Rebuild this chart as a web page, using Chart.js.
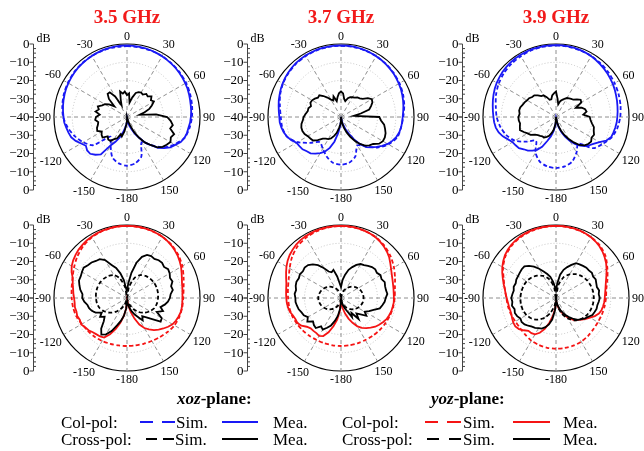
<!DOCTYPE html>
<html>
<head>
<meta charset="utf-8">
<title>Radiation patterns</title>
<script src="https://cdn.jsdelivr.net/npm/chart.js@4.4.1/dist/chart.umd.min.js"></script>
<style>
  html, body { margin: 0; padding: 0; background: #fff; }
  #page { position: relative; width: 644px; height: 451px; overflow: hidden;
          font-family: "Liberation Serif", "Times New Roman", serif; color: #000; }
  canvas { position: absolute; }
  .lg { position: absolute; font-size: 17px; line-height: 17px; white-space: nowrap; }
  .hd { position: absolute; font-size: 17px; line-height: 17px; font-weight: bold; white-space: nowrap; }
  .ln { position: absolute; height: 2px; }
</style>
</head>
<body>
<div id="page">
  <canvas id="c1" width="215" height="212" style="left:0px;top:0px"></canvas>
  <canvas id="c2" width="215" height="212" style="left:214px;top:0px"></canvas>
  <canvas id="c3" width="215" height="212" style="left:429px;top:0px"></canvas>
  <canvas id="c4" width="215" height="195" style="left:0px;top:200px"></canvas>
  <canvas id="c5" width="215" height="195" style="left:214px;top:200px"></canvas>
  <canvas id="c6" width="215" height="195" style="left:429px;top:200px"></canvas>

  <!-- legend: xoz-plane -->
  <div class="hd" style="left:177px;top:390px"><i>xoz</i>-plane:</div>
  <div class="lg" style="left:61px;top:414px">Col-pol:</div>
  <div class="ln" style="left:140px;top:421px;width:13px;background:#1919f5"></div>
  <div class="ln" style="left:162px;top:421px;width:13px;background:#1919f5"></div>
  <div class="lg" style="left:176px;top:414px">Sim.</div>
  <div class="ln" style="left:222px;top:421px;width:36px;background:#1919f5"></div>
  <div class="lg" style="left:273px;top:414px">Mea.</div>
  <div class="lg" style="left:61px;top:431px">Cross-pol:</div>
  <div class="ln" style="left:146px;top:438px;width:11px;background:#000"></div>
  <div class="ln" style="left:163px;top:438px;width:11px;background:#000"></div>
  <div class="lg" style="left:175px;top:431px">Sim.</div>
  <div class="ln" style="left:222px;top:438px;width:36px;background:#000"></div>
  <div class="lg" style="left:273px;top:431px">Mea.</div>

  <!-- legend: yoz-plane -->
  <div class="hd" style="left:431px;top:390px"><i>yoz</i>-plane:</div>
  <div class="lg" style="left:342px;top:414px">Col-pol:</div>
  <div class="ln" style="left:425px;top:421px;width:13px;background:#f51414"></div>
  <div class="ln" style="left:447px;top:421px;width:14px;background:#f51414"></div>
  <div class="lg" style="left:463px;top:414px">Sim.</div>
  <div class="ln" style="left:513px;top:421px;width:37px;background:#f51414"></div>
  <div class="lg" style="left:563px;top:414px">Mea.</div>
  <div class="lg" style="left:342px;top:431px">Cross-pol:</div>
  <div class="ln" style="left:427px;top:438px;width:12px;background:#000"></div>
  <div class="ln" style="left:449px;top:438px;width:12px;background:#000"></div>
  <div class="lg" style="left:463px;top:431px">Sim.</div>
  <div class="ln" style="left:513px;top:438px;width:37px;background:#000"></div>
  <div class="lg" style="left:563px;top:431px">Mea.</div>
</div>

<script>
// Angular categories: one spoke every 5 degrees, clockwise from broadside (0 at top)
const ANGLE_STEP = 5;
const ANGLES = Array.from({ length: 360 / ANGLE_STEP }, (_, i) => i * ANGLE_STEP);
const ANGLE_TICKS = ['0', '30', '60', '90', '120', '150', '-180', '-150', '-120', '-90', '-60', '-30'];
const DB_TICKS = ['0', '\u221210', '\u221220', '\u221230', '\u221240', '\u221230', '\u221220', '\u221210', '0'];
const DB_LEVELS = [0, -10, -20, -30, -40, -30, -20, -10, 0];
const FREQS = ['3.5 GHz', '3.7 GHz', '3.9 GHz'];

// Normalised gain in dB. Simulated cuts are sampled every 10 deg, measured cuts every 5 deg.
// ---- xoz-plane, 3.5 GHz ----
const XOZ35_COL_SIM = [-1.2,-1.2,-1.3,-1.5,-1.8,-2.2,-2.6,-3.2,-3.8,-4.4,-5.2,-6.5,
  -10,-14,-20,-24,-17,-14.2,-13.3,-14.2,-16.5,-22,-26,-16,
  -12.3,-9.5,-7,-5,-4,-3.2,-2.6,-2,-1.6,-1.4,-1.2,-1.2];
const XOZ35_COL_MEA = [-0.8,-0.9,-1.0,-1.0,-1.2,-1.4,-1.6,-1.8,-2.0,-2.2,-2.5,-2.8,
  -3.1,-3.4,-3.8,-4.2,-4.5,-4.7,-5.0,-5.3,-5.8,-6.0,-6.5,-7.5,
  -9.5,-11,-13.5,-16,-20,-23,-27,-30,-33,-35,-37,-39,
  -37.5,-36,-34,-31,-28,-25,-22,-15,-13,-11.5,-11.5,-12.5,
  -11,-9,-7.5,-6.8,-6.2,-5.5,-5.2,-4.8,-4.4,-4.0,-3.6,-3.2,
  -2.9,-2.6,-2.3,-2.0,-1.8,-1.6,-1.4,-1.2,-1.0,-0.9,-0.8,-0.8];
const XOZ35_CROSS_MEA = [-28,-27,-32,-29,-26,-25,-24.5,-25,-23.5,-24,-22.5,-24,
  -23,-25,-27,-30,-33,-24,-18,-16,-14.5,-15.5,-12.5,-13.5,
  -12.5,-13.5,-14.5,-16.5,-20,-23,-27,-31,-35,-38,-40,-40,
  -38,-36,-32,-29,-30,-27,-26,-24,-24,-25,-22.5,-23,
  -24,-22,-22.5,-23.5,-24,-22.5,-23,-25,-22.5,-24,-23,-25,
  -26,-28,-31,-26,-23.5,-23.5,-27,-33,-30,-25.5,-27,-26];

// ---- xoz-plane, 3.7 GHz ----
const XOZ37_COL_SIM = [-1.0,-1.0,-1.2,-1.5,-1.9,-2.4,-3.0,-3.8,-4.8,-5.9,-6.6,-7.2,
  -10,-14,-19,-22,-17,-14.5,-13.9,-14.5,-17,-20,-22,-18,
  -12.5,-8.5,-7.3,-7,-6,-4.5,-3.3,-2.5,-1.8,-1.4,-1.1,-1.0];
const XOZ37_COL_MEA = [-0.8,-0.8,-0.9,-1.0,-1.1,-1.3,-1.5,-1.7,-2.0,-2.3,-2.6,-3.0,
  -3.4,-3.8,-4.3,-4.8,-5.3,-5.8,-6.2,-6.4,-6.6,-7.0,-7.8,-9.0,
  -10.5,-12.5,-14.5,-16.5,-18.5,-22,-26,-30,-33,-36,-38,-40,
  -38,-35,-31,-26,-22,-19,-17.2,-15.5,-14,-13.5,-12.5,-12.2,
  -11.8,-10,-8.5,-7.5,-6.8,-6.3,-6.2,-5.8,-5.3,-4.7,-4.2,-3.6,
  -3.1,-2.6,-2.2,-1.8,-1.5,-1.3,-1.1,-1.0,-0.9,-0.8,-0.8,-0.8];
const XOZ37_CROSS_MEA = [-26,-27,-30,-31,-29,-28,-27.5,-27,-26,-25.5,-24.5,-22,
  -20.5,-21,-22.5,-24,-29,-33,-19,-18,-16,-15,-14,-13.5,
  -13.5,-14.5,-17,-18,-19.5,-22,-25,-28,-31,-34,-37,-40,
  -38,-36,-34,-31,-29,-27,-26,-25.5,-24.5,-22,-20,-19.5,
  -19,-18,-17.5,-17.5,-18,-19,-19.5,-20.5,-21.5,-21.5,-22.5,-21.5,
  -21.7,-22.5,-23.5,-23.2,-25,-27,-29,-30,-28,-31,-29,-27];

// ---- xoz-plane, 3.9 GHz ----
const XOZ39_COL_SIM = [-0.8,-0.9,-1.1,-1.4,-1.8,-2.3,-2.9,-3.5,-4.1,-4.8,-5.8,-7.5,
  -10.5,-13.4,-21,-17.5,-14,-12.5,-12,-12.5,-14,-17.5,-23,-19,
  -14,-11,-9,-7.5,-6.5,-5,-3.7,-2.7,-2,-1.5,-1.1,-0.9];
const XOZ39_COL_MEA = [-0.6,-0.6,-0.7,-0.8,-1.0,-1.2,-1.5,-1.9,-2.3,-2.7,-3.1,-3.6,
  -4.0,-4.5,-5.0,-5.4,-5.8,-6.1,-6.4,-6.6,-7.0,-7.4,-7.8,-9.5,
  -12.5,-14.5,-16,-17.5,-19.5,-22,-25,-28,-31,-34,-37,-39,
  -38,-35,-32,-29,-26,-22,-19.2,-17.5,-16,-15,-13.5,-13,
  -12.5,-11,-9,-7.5,-6.5,-6,-5.7,-5.3,-4.8,-4.2,-3.6,-3.0,
  -2.5,-2.1,-1.7,-1.4,-1.1,-0.9,-0.8,-0.7,-0.6,-0.6,-0.6,-0.6];
const XOZ39_CROSS_MEA = [-26,-30,-33,-31,-30,-29,-28,-27.5,-27,-26.6,-25,-23.5,
  -24,-28,-25,-23.5,-23,-25,-21.5,-21,-20,-18.5,-18,-17,
  -17.5,-16.5,-17,-18,-20,-23,-26,-29,-32,-35,-38,-40,
  -39,-36,-33,-31,-29,-28,-27,-27,-26.5,-26,-25,-23,
  -22,-20.5,-19,-19.5,-20,-19.5,-19.4,-20,-19.5,-19.7,-20.5,-21,
  -21.7,-22,-23,-23.2,-24.5,-26,-26.3,-28,-30,-30,-28,-27];

// ---- yoz-plane, 3.5 GHz ----
const YOZ35_COL_SIM = [-0.5,-0.6,-0.8,-1.2,-2,-3.3,-5,-7,-8.5,-9.2,-9.3,-9.5,
  -10,-11,-12,-12.8,-13.3,-13.6,-13.7,-13.6,-13.3,-12.8,-12.3,-12,
  -11.5,-10.5,-10,-9.7,-9.2,-8.2,-6.5,-4.5,-2.8,-1.6,-0.9,-0.6];
const YOZ35_COL_MEA = [-0.5,-0.5,-0.5,-0.6,-0.8,-1.0,-1.3,-1.7,-2.3,-3.0,-3.8,-4.8,
  -5.8,-7.0,-8.0,-8.8,-9.2,-9.5,-9.6,-9.6,-9.5,-9.6,-10.0,-10.5,
  -11.2,-12.5,-14,-15.5,-17,-19,-21,-24,-28,-32,-36,-39,
  -38,-34,-30,-26,-22,-18,-15,-14.3,-14,-13.5,-12.5,-12,
  -11,-11.5,-11,-11.3,-11,-11.2,-11,-10.5,-10,-9.2,-8.4,-6.5,
  -5,-4,-3.2,-2.5,-2,-1.5,-1.2,-0.9,-0.7,-0.6,-0.5,-0.5];
const YOZ35_CROSS_SIM = [-40,-34,-28.5,-25.5,-24.2,-23.5,-23,-22.8,-22.8,-23,-23.3,-24,
  -25.5,-27.5,-30,-33,-36,-39,-40,-39,-36,-33,-30,-27.5,
  -25.5,-24,-23.3,-23,-22.8,-22.8,-23,-23.5,-24.2,-25.5,-28.5,-34];
const YOZ35_CROSS_MEA = [-36,-32,-26,-20,-16,-14,-13.5,-13.8,-13,-12.8,-13.5,-12.5,
  -13,-14,-13.5,-15,-14.5,-16,-16.5,-17.5,-19,-21,-19,-22,
  -18,-17.5,-22,-25,-27,-25,-28,-30,-32,-34,-36,-38,
  -38,-34,-30,-27,-24,-20,-17,-15.5,-18,-22,-24,-22,
  -24,-21,-19.5,-18.5,-18,-16.5,-15.5,-15.5,-14,-13,-12,-12,
  -11.5,-11,-12,-12.5,-13.5,-14,-16,-20,-22.5,-26,-30,-35];

// ---- yoz-plane, 3.7 GHz ----
const YOZ37_COL_SIM = [-0.6,-0.7,-1.0,-1.6,-2.8,-4.5,-6.5,-8.5,-10,-10.6,-11,-11.5,
  -12,-12.5,-13,-13.4,-13.6,-13.7,-13.7,-13.7,-13.6,-13.4,-13,-12.5,
  -12,-11.5,-11.2,-11,-10.5,-9.5,-7.5,-5,-3,-1.8,-1.1,-0.7];
const YOZ37_COL_MEA = [-0.5,-0.5,-0.6,-0.8,-1.0,-1.3,-1.8,-2.5,-3.3,-4.3,-5.5,-7.0,
  -8.3,-9.3,-10.0,-10.5,-10.8,-11.0,-11.0,-11.0,-11.3,-11.5,-12.0,-12.5,
  -13.5,-14.5,-15.5,-17.0,-18.5,-20,-22,-25,-28,-31,-34,-37,
  -38,-33,-28,-24,-20,-17,-16,-16.5,-16.5,-16.5,-15.5,-13.5,
  -12.5,-12.5,-12,-11,-10.5,-10.2,-10,-9.8,-9.5,-9,-8,-6.8,
  -5.5,-4.3,-3.3,-2.5,-1.8,-1.3,-1.0,-0.8,-0.6,-0.5,-0.5,-0.5];
const YOZ37_CROSS_SIM = [-40,-37.8,-35.7,-33.8,-32,-30.5,-29.3,-28.4,-27.8,-27.6,-27.8,-28.4,
  -29.3,-30.5,-32,-33.8,-35.7,-37.8,-40,-37.8,-35.7,-33.8,-32,-30.5,
  -29.3,-28.4,-27.8,-27.5,-27.8,-28.4,-29.3,-30.5,-32,-33.8,-35.7,-37.8];
const YOZ37_CROSS_MEA = [-34,-30,-27,-24,-22,-20,-18.5,-18,-17,-16,-15.5,-16,
  -15,-15.5,-14.5,-15,-15,-14.5,-15.5,-16,-17,-18,-21,-23,
  -25,-23,-26,-28,-25,-30,-28,-32,-34,-36,-38,-39,
  -38,-34,-30,-27,-24,-22,-20,-21,-18.5,-19,-20,-17.5,
  -19,-17.5,-17,-16,-15.5,-15,-15,-14.5,-15,-14.3,-14,-14.5,
  -14,-14.5,-14,-14.5,-16,-18,-21,-24,-25,-24,-28,-32];

// ---- yoz-plane, 3.9 GHz ----
const YOZ39_COL_SIM = [-0.5,-0.6,-0.9,-1.5,-2.5,-4.5,-7.5,-10,-12,-12.6,-13,-13.3,
  -13.5,-13.3,-12.8,-12.4,-12.2,-12.2,-12.2,-12.3,-12.6,-13,-13.8,-14.3,
  -14.3,-13.8,-13.3,-12.8,-11.5,-9.5,-6.5,-4,-2.4,-1.4,-0.9,-0.6];
const YOZ39_COL_MEA = [-0.5,-0.5,-0.6,-0.7,-0.9,-1.2,-1.6,-2.2,-3.0,-4.0,-5.2,-6.5,
  -8,-9.5,-10.8,-11.8,-12.5,-13,-13.3,-13.5,-13.8,-14.2,-15,-16.5,
  -18.5,-20,-21.5,-23,-24,-26,-28,-30,-32,-34,-36,-38,
  -38,-34,-30,-26,-22,-19,-17,-16.5,-16.5,-15,-13.5,-12.8,
  -13,-13.5,-14,-14,-13.8,-13.5,-13,-12.3,-11.5,-10.3,-9,-7.5,
  -6,-4.7,-3.5,-2.6,-1.9,-1.4,-1.0,-0.8,-0.6,-0.5,-0.5,-0.5];
const YOZ39_CROSS_SIM = [-40,-33,-28,-25,-23,-21.5,-20.5,-19.8,-19.4,-19.3,-19.5,-20,
  -20.8,-22,-24,-27,-31,-36,-40,-36,-31.5,-27.5,-24.5,-22.5,
  -21.3,-20.7,-20.5,-20.5,-20.7,-21,-21.5,-22.5,-24,-26,-29,-34];
const YOZ39_CROSS_MEA = [-36,-32,-27,-24,-22,-20,-18,-17.5,-17,-16.5,-16.5,-16,
  -16.5,-16,-16.5,-16.8,-16,-16.5,-16,-16.5,-17,-17,-17.5,-18,
  -19.5,-20.5,-22,-23,-25,-27,-29,-31,-33,-35,-37,-39,
  -38,-33,-28,-25,-23,-21.5,-21,-20,-19.5,-18.5,-17.5,-17,
  -17.5,-16.5,-16,-16.5,-15.5,-16,-15.5,-16,-16.5,-16,-16.5,-16,
  -16,-15.8,-15.5,-15.5,-17,-19,-21.5,-24,-26,-28,-31,-34];

const BLUE = '#1919f5';
const RED = '#f51414';
const BLACK = '#000000';

// 10-degree samples sit on every other 5-degree spoke; the line spans the gaps
const on10deg = arr => arr.flatMap(v => [v, null]);

function series(values, color, dashed) {
  return {
    data: dashed ? on10deg(values) : values,
    borderColor: color,
    backgroundColor: 'transparent',
    borderWidth: 1.8,
    borderDash: dashed ? [4, 2.5] : [],
    fill: false,
    pointRadius: 0,
    pointHoverRadius: 0,
    tension: dashed ? 0.25 : 0,
    spanGaps: true
  };
}

// Angle labels around the rim and the dB ruler at the left of each polar plot
const polarFrame = {
  id: 'polarFrame',
  afterDraw(chart) {
    const s = chart.scales.r;
    const ctx = chart.ctx;
    const cx = s.xCenter, cy = s.yCenter, R = s.drawingArea;
    ctx.save();
    ctx.fillStyle = '#000';
    ctx.font = '12px "Liberation Serif", serif';
    ctx.textAlign = 'center';
    ctx.textBaseline = 'middle';
    ANGLE_TICKS.forEach((txt, k) => {
      const idx = k * 30 / ANGLE_STEP;
      const th = k * Math.PI / 6;
      const w = ctx.measureText(txt).width;
      const d = R + 3 + Math.abs(Math.sin(th)) * w / 2 + Math.abs(Math.cos(th)) * 5;
      const p = s.getPointPosition(idx, d);
      ctx.fillText(txt, p.x, p.y + 0.5);
    });

    const ax = Math.round(cx - 94) + 0.5;
    ctx.strokeStyle = '#444';
    ctx.lineWidth = 1;
    ctx.beginPath();
    ctx.moveTo(ax, cy - R);
    ctx.lineTo(ax, cy + R);
    ctx.stroke();
    ctx.beginPath();
    for (let v = -40; v <= 0; v += 2.5) {
      const d = s.getDistanceFromCenterForValue(v);
      const major = v % 10 === 0;
      [cy - d, cy + d].forEach(y => {
        if (major) { ctx.moveTo(ax - 4, y); ctx.lineTo(ax, y); }
        else { ctx.moveTo(ax, y); ctx.lineTo(ax + 2.5, y); }
      });
    }
    ctx.stroke();

    ctx.font = '13px "Liberation Serif", serif';
    ctx.textAlign = 'right';
    DB_TICKS.forEach((txt, i) => {
      const d = s.getDistanceFromCenterForValue(DB_LEVELS[i]);
      const y = i < 4 ? cy - d : (i > 4 ? cy + d : cy);
      ctx.fillText(txt, ax - 4, y + 0.5);
    });
    ctx.font = '12px "Liberation Serif", serif';
    ctx.textAlign = 'left';
    ctx.fillText('dB', ax + 3, cy - R - 5);
    ctx.restore();
  }
};

function polarChart(id, title, datasets) {
  const titled = !!title;
  return new Chart(document.getElementById(id), {
    type: 'radar',
    data: { labels: ANGLES, datasets },
    options: {
      responsive: false,
      animation: false,
      devicePixelRatio: 1,
      events: [],
      layout: { padding: titled ? { left: 54, right: 15, top: 0, bottom: 22 }
                               : { left: 54, right: 15, top: 25, bottom: 24 } },
      plugins: {
        legend: { display: false },
        tooltip: { enabled: false },
        title: {
          display: titled,
          text: title || '',
          fullSize: false,
          color: '#f21a1a',
          font: { family: '"Liberation Serif", serif', size: 19, weight: 'bold', lineHeight: 1.2 },
          padding: { top: 7, bottom: 14.2 }
        }
      },
      scales: {
        r: {
          min: -40,
          max: 0,
          ticks: { display: false, stepSize: 10 },
          pointLabels: { display: false },
          grid: {
            circular: true,
            color: c => (c.tick && c.tick.value === 0 ? '#000' : '#c4c4c4'),
            lineWidth: c => (c.tick && c.tick.value === 0 ? 1.2 : 1)
          },
          border: { dash: c => (c.tick && c.tick.value === 0 ? [] : [1, 2]) },
          angleLines: {
            color: c => (c.index % (30 / ANGLE_STEP) === 0 ? '#8e8e8e' : 'rgba(0,0,0,0)'),
            lineWidth: 1,
            borderDash: [4, 3]
          }
        }
      }
    },
    plugins: [polarFrame]
  });
}

polarChart('c1', FREQS[0], [
  series(XOZ35_CROSS_MEA, BLACK, false),
  series(XOZ35_COL_MEA, BLUE, false),
  series(XOZ35_COL_SIM, BLUE, true)
]);
polarChart('c2', FREQS[1], [
  series(XOZ37_CROSS_MEA, BLACK, false),
  series(XOZ37_COL_MEA, BLUE, false),
  series(XOZ37_COL_SIM, BLUE, true)
]);
polarChart('c3', FREQS[2], [
  series(XOZ39_CROSS_MEA, BLACK, false),
  series(XOZ39_COL_MEA, BLUE, false),
  series(XOZ39_COL_SIM, BLUE, true)
]);
polarChart('c4', null, [
  series(YOZ35_CROSS_MEA, BLACK, false),
  series(YOZ35_CROSS_SIM, BLACK, true),
  series(YOZ35_COL_MEA, RED, false),
  series(YOZ35_COL_SIM, RED, true)
]);
polarChart('c5', null, [
  series(YOZ37_CROSS_MEA, BLACK, false),
  series(YOZ37_CROSS_SIM, BLACK, true),
  series(YOZ37_COL_MEA, RED, false),
  series(YOZ37_COL_SIM, RED, true)
]);
polarChart('c6', null, [
  series(YOZ39_CROSS_MEA, BLACK, false),
  series(YOZ39_CROSS_SIM, BLACK, true),
  series(YOZ39_COL_MEA, RED, false),
  series(YOZ39_COL_SIM, RED, true)
]);
</script>
</body>
</html>
